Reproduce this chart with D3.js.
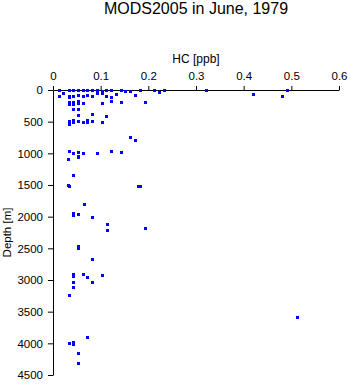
<!DOCTYPE html>
<html>
<head>
<meta charset="utf-8">
<script src="https://cdn.jsdelivr.net/npm/d3@7"></script>
<style>
  body { margin: 0; background: #fff; }
  svg { display: block; }
  text { font-family: "Liberation Sans", Arial, sans-serif; }
</style>
</head>
<body>
<div id="chart"></div>
<script>
// HC concentration [ppb] and depth [m] for each sample
var hcValues = [
  0.012, 0.033, 0.043, 0.053, 0.063, 0.072, 0.082, 0.092, 0.102, 0.112, 0.122, 0.142, 0.152, 0.162, 0.182, 0.211, 0.222, 0.232, 0.321, 0.49,
  0.022, 0.092, 0.102, 0.133, 0.42,
  0.012, 0.033, 0.033, 0.043, 0.053, 0.063, 0.072, 0.082, 0.112, 0.122, 0.172, 0.48,
  0.033, 0.033, 0.043, 0.043, 0.053, 0.053, 0.063, 0.102, 0.122, 0.142, 0.192,
  0.043, 0.053,
  0.082, 0.053, 0.112,
  0.033, 0.033, 0.043, 0.043, 0.053, 0.063, 0.072, 0.072, 0.082, 0.102,
  0.162, 0.173,
  0.033, 0.043, 0.053, 0.053, 0.053, 0.063, 0.093, 0.122, 0.143, 0.032,
  0.043,
  0.032, 0.034, 0.182, 0.179,
  0.064,
  0.043, 0.043, 0.053, 0.082, 0.113, 0.113, 0.192,
  0.053, 0.053, 0.082,
  0.043, 0.043, 0.062, 0.072, 0.102, 0.082, 0.043, 0.043, 0.034,
  0.511,
  0.072, 0.034, 0.043, 0.043, 0.053, 0.053
];
var depthValues = [
  5, 5, 5, 5, 5, 5, 5, 5, 8, 5, 5, 5, 8, 8, 5, 5, 26, 5, 5, 5,
  52, 52, 52, 63, 63,
  95, 95, 115, 95, 85, 95, 85, 95, 95, 105, 85, 95,
  195, 215, 190, 220, 170, 200, 210, 200, 175, 195, 195,
  305, 305,
  374, 395, 410,
  495, 537, 480, 505, 490, 505, 480, 500, 490, 505,
  747, 795,
  968, 1000, 984, 1042, 1065, 1000, 1000, 968, 984, 1090,
  1337,
  1495, 1521, 1510, 1510,
  1795,
  1947, 1978, 1953, 2010, 2116, 2216, 2184,
  2468, 2500, 2663,
  2910, 2942, 2905, 2947, 2921, 3026, 3037, 3116, 3242,
  3589,
  3900, 4000, 3984, 4005, 4147, 4316
];

var xTicks = [0, 0.1, 0.2, 0.3, 0.4, 0.5, 0.6];
var xTickLabels = ["0", "0.1", "0.2", "0.3", "0.4", "0.5", "0.6"];
var yTicks = [0, 500, 1000, 1500, 2000, 2500, 3000, 3500, 4000, 4500];

var width = 350, height = 384;

var x = d3.scaleLinear()
    .domain([0, 0.6])
    .range([53, 339]);

var y = d3.scaleLinear()
    .domain([0, 4500])
    .range([90, 375]);

var svg = d3.select("#chart").append("svg")
    .attr("width", width)
    .attr("height", height);

// title
svg.append("text")
    .attr("x", 196)
    .attr("y", 14)
    .attr("text-anchor", "middle")
    .style("font-size", "16px")
    .text("MODS2005 in June, 1979");

var xAxis = d3.axisTop(x)
    .tickValues(xTicks)
    .tickFormat(function(d, i) { return xTickLabels[i]; })
    .tickSize(4)
    .tickSizeOuter(0)
    .tickPadding(6);

var yAxis = d3.axisLeft(y)
    .tickValues(yTicks)
    .tickFormat(d3.format("d"))
    .tickSize(5)
    .tickSizeOuter(0)
    .tickPadding(5);

svg.append("g")
    .attr("class", "x axis")
    .attr("transform", "translate(0," + y(0) + ")")
    .call(xAxis)
    .call(function(g) {
      g.attr("font-family", null).attr("font-size", null);
      g.selectAll("text").style("font-size", "11.5px").attr("fill", "#000");
    });

svg.append("g")
    .attr("class", "y axis")
    .attr("transform", "translate(" + x(0) + ",0)")
    .call(yAxis)
    .call(function(g) {
      g.attr("font-family", null).attr("font-size", null);
      g.selectAll("text").style("font-size", "11.5px").attr("fill", "#000");
    });

// axis titles
svg.append("text")
    .attr("x", (x.range()[0] + x.range()[1]) / 2)
    .attr("y", 63)
    .attr("text-anchor", "middle")
    .style("font-size", "12px")
    .text("HC [ppb]");

svg.append("text")
    .attr("transform", "translate(11," + ((y.range()[0] + y.range()[1]) / 2) + ") rotate(-90)")
    .attr("text-anchor", "middle")
    .style("font-size", "11.5px")
    .text("Depth [m]");

// samples
var samples = hcValues.map(function(v, i) { return {hc: v, depth: depthValues[i]}; });

svg.selectAll(".dot")
    .data(samples)
  .enter().append("rect")
    .attr("class", "dot")
    .attr("x", function(d) { return Math.round(x(d.hc)) - 1; })
    .attr("y", function(d) { return Math.round(y(d.depth)) - 1; })
    .attr("width", 3)
    .attr("height", 3)
    .attr("shape-rendering", "crispEdges")
    .style("fill", "#0000ff");
</script>
</body>
</html>
